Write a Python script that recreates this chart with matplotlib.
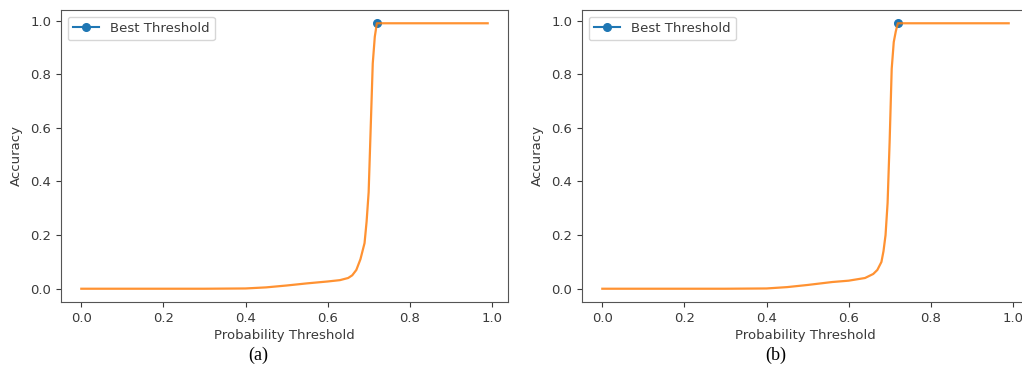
import matplotlib.pyplot as plt

# thresholds / accuracy
thr_a = [0.00, 0.10, 0.20, 0.30, 0.40, 0.45, 0.50, 0.55, 0.60, 0.63, 0.65, 0.66,
         0.67, 0.68, 0.69, 0.695, 0.70, 0.705, 0.71, 0.715, 0.72, 0.80, 0.90, 0.99]
acc_a = [0.0, 0.0, 0.0, 0.0, 0.001, 0.005, 0.012, 0.02, 0.027, 0.032, 0.04, 0.05,
         0.07, 0.11, 0.17, 0.25, 0.36, 0.60, 0.84, 0.94, 0.99, 0.99, 0.99, 0.99]

# panel (b)
thr_b = [0.00, 0.10, 0.20, 0.30, 0.40, 0.45, 0.50, 0.56, 0.60, 0.64, 0.66, 0.67,
         0.68, 0.685, 0.69, 0.695, 0.70, 0.705, 0.71, 0.715, 0.72, 0.80, 0.90, 0.99]
acc_b = [0.0, 0.0, 0.0, 0.0, 0.001, 0.006, 0.014, 0.025, 0.03, 0.04, 0.055, 0.07,
         0.10, 0.14, 0.20, 0.32, 0.55, 0.82, 0.92, 0.96, 0.99, 0.99, 0.99, 0.99]

best_a = (0.72, 0.99)
best_b = (0.72, 0.99)
captions = ['(a)', '(b)']

plt.rcParams['font.size'] = 9.5
plt.rcParams['text.color'] = '#3a3a3a'
plt.rcParams['axes.labelcolor'] = '#3a3a3a'
plt.rcParams['xtick.color'] = '#3a3a3a'
plt.rcParams['ytick.color'] = '#3a3a3a'
plt.rcParams['axes.edgecolor'] = '#555555'

fig = plt.figure(figsize=(10.22, 3.74), dpi=100)
W, H = 1022, 374
ax_a = fig.add_axes([61 / W, (H - 302) / H, 447 / W, 292 / H])
ax_b = fig.add_axes([582 / W, (H - 302) / H, 447 / W, 292 / H])

for ax, thr, acc, best, cap in [(ax_a, thr_a, acc_a, best_a, captions[0]),
                                (ax_b, thr_b, acc_b, best_b, captions[1])]:
    ax.plot([best[0]], [best[1]], 'o-', color='tab:blue', markersize=5.5,
            label='Best Threshold')
    ax.plot(thr, acc, color='tab:orange', lw=1.6, alpha=0.85)
    ax.set_xlabel('Probability Threshold', labelpad=3)
    ax.set_ylabel('Accuracy', labelpad=5)
    ax.set_xticks([0.0, 0.2, 0.4, 0.6, 0.8, 1.0])
    ax.set_yticks([0.0, 0.2, 0.4, 0.6, 0.8, 1.0])
    ax.set_xlim(-0.0495, 1.0395)
    ax.set_ylim(-0.0495, 1.0395)
    ax.legend(loc='upper left')

fig.text(258 / W, 10 / H, captions[0], ha='center', va='bottom', fontsize=13,
         family='Liberation Serif', color='black')
fig.text(776 / W, 10 / H, captions[1], ha='center', va='bottom', fontsize=13,
         family='Liberation Serif', color='black')

fig.savefig('out.png', dpi=100)
